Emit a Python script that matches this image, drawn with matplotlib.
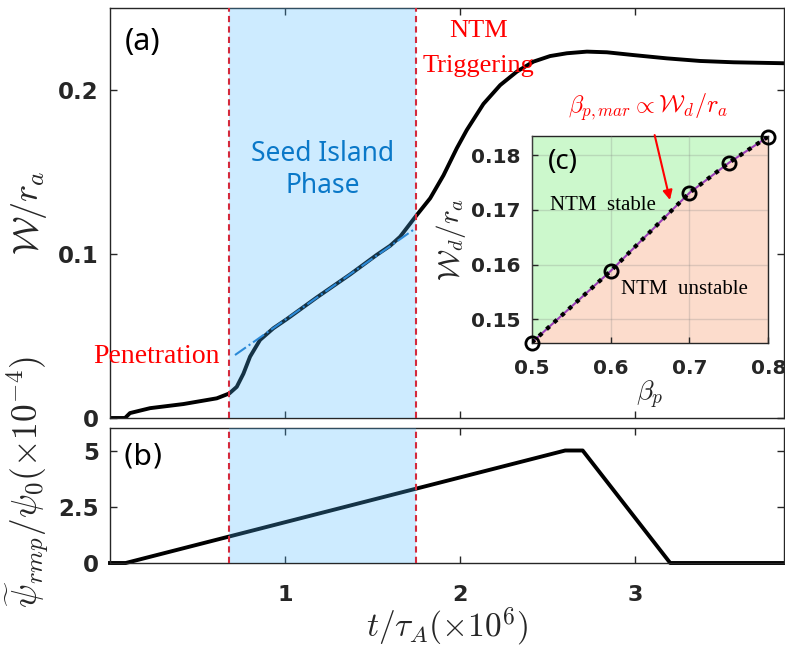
import matplotlib
matplotlib.use("Agg")
import matplotlib.pyplot as plt

plt.rcParams['mathtext.fontset'] = 'cm'
plt.rcParams['font.family'] = ['DejaVu Sans']

# ---- data ----
t_w = [0.0, 0.086, 0.114, 0.229, 0.419, 0.61, 0.682, 0.724, 0.762, 0.8, 0.857, 0.933,
       1.01, 1.181, 1.371, 1.524, 1.6, 1.657, 1.743, 1.829, 1.905, 1.981, 2.038, 2.133,
       2.229, 2.324, 2.419, 2.514, 2.61, 2.724, 2.838, 2.99, 3.18, 3.371, 3.562, 3.857]
w_ra = [0.0, 0.0, 0.003, 0.006, 0.0085, 0.012, 0.015, 0.019, 0.027, 0.0374, 0.0476, 0.0547,
        0.0603, 0.0735, 0.0875, 0.0995, 0.105, 0.1105, 0.1225, 0.134, 0.148, 0.1645, 0.1756,
        0.1915, 0.203, 0.2112, 0.2173, 0.2207, 0.2224, 0.2234, 0.223, 0.2213, 0.2193, 0.2177,
        0.2169, 0.2163]

seed_fit_t = [0.714, 1.75]
seed_fit_w = [0.0384, 0.116]

t_psi = [0.0, 0.09, 2.6, 2.7, 3.2, 3.86]
psi_rmp = [0.0, 0.0, 5.0, 5.0, 0.0, 0.0]

t_pen = 0.68
t_trig = 1.75

beta_p = [0.5, 0.6, 0.7, 0.75, 0.8]
wd_ra = [0.1457, 0.1588, 0.1731, 0.1786, 0.1834]

xticks = [1, 2, 3]
yticks_a = [0, 0.1, 0.2]
yticks_b = [0, 2.5, 5]
ytick_b_labels = ['0', '2.5', '5']
inset_xticks = [0.5, 0.6, 0.7, 0.8]
inset_yticks = [0.15, 0.16, 0.17, 0.18]

# ---- style ----
dark = '#262626'
red = '#d42a3c'
fill_blue = '#4db8ff'
txt_red = '#ff0000'
txt_blue = '#0a78c8'

fig = plt.figure(figsize=(7.85, 6.54), dpi=100)
W, H = 785, 654
def box(l, t, r, b):
    return [l / W, 1 - b / H, (r - l) / W, (b - t) / H]

axa = fig.add_axes(box(110, 8, 784, 418))
axb = fig.add_axes(box(110, 428, 784, 563))

for ax in (axa, axb):
    for s in ax.spines.values():
        s.set_color(dark)
        s.set_linewidth(1.0)
    ax.set_xlim(0, 3.85)
    ax.tick_params(direction='in', length=5, width=1, color=dark,
                   top=True, right=True, labelcolor=dark)
    ax.set_xticks(xticks)
    ax.axvspan(t_pen, t_trig, color=fill_blue, alpha=0.28, lw=0, zorder=3)
    ax.axvline(t_pen, color=red, lw=1.5, ls=(0, (3, 2)), zorder=4)
    ax.axvline(t_trig, color=red, lw=1.5, ls=(0, (3, 2)), zorder=4)

# panel (a)
axa.plot(t_w, w_ra, color='black', lw=2.8, zorder=2, solid_capstyle='round')
axa.plot(seed_fit_t, seed_fit_w, color='#1f78c8', lw=1.5, ls='-.', zorder=2.5)
axa.set_ylim(0, 0.25)
axa.set_yticks(yticks_a)
axa.set_yticklabels(['0', '0.1', '0.2'], fontsize=16.5, fontweight='bold')
axa.tick_params(axis='y', pad=8)
axa.set_xticklabels([])
axa.set_ylabel(r'$\mathcal{W}/r_a$', fontsize=26, color=dark)
axa.yaxis.set_label_coords(-0.09, 0.5)

axa.text(0.086, 0.229, '(a)', fontsize=22, family='Noto Sans', ha='left', va='center', color='black')
axa.text(1.217, 0.161, 'Seed Island', fontsize=19, family='Noto Sans', color=txt_blue,
         ha='center', va='center', zorder=6)
axa.text(1.217, 0.1415, 'Phase', fontsize=19, family='Noto Sans', color=txt_blue,
         ha='center', va='center', zorder=6)
axa.text(0.629, 0.0378, 'Penetration', fontsize=20, family='Liberation Serif', color=txt_red,
         ha='right', va='center', clip_on=False, zorder=6)
axa.text(2.103, 0.236, 'NTM', fontsize=19, family='Liberation Serif', color=txt_red,
         ha='center', va='center', zorder=6)
axa.text(2.103, 0.2146, 'Triggering', fontsize=19, family='Liberation Serif', color=txt_red,
         ha='center', va='center', zorder=6)

# panel (b)
axb.plot(t_psi, psi_rmp, color='black', lw=2.8, zorder=2, clip_on=False)
axb.set_ylim(0, 6)
axb.set_yticks(yticks_b)
axb.set_yticklabels(ytick_b_labels, fontsize=16.5, fontweight='bold')
axb.tick_params(axis='y', pad=8)
axb.set_xticklabels([str(v) for v in xticks], fontsize=16, fontweight='bold')
axb.tick_params(axis='x', pad=16)
axb.set_xlabel(r'$t/\tau_A(\times10^6)$', fontsize=24, color=dark, labelpad=0)
axb.set_ylabel(r'$\widetilde{\psi}_{rmp}/\psi_0(\times10^{-4})$', fontsize=25.5, color=dark)
axb.yaxis.set_label_coords(-0.088, 0.6)
axb.text(0.069, 4.75, '(b)', fontsize=21, ha='left', va='center', color='black')

# inset (c)
axc = fig.add_axes(box(531.7, 136, 768.3, 342.7))
axc.set_xlim(0.5, 0.8)
axc.set_ylim(0.1457, 0.1835)
axc.fill_between(beta_p, wd_ra, 0.1835, color='#ccf8cc', lw=0, zorder=0)
axc.fill_between(beta_p, 0.1457, wd_ra, color='#fcdccc', lw=0, zorder=0)
axc.grid(True, color='gray', alpha=0.25, lw=1)
axc.set_axisbelow(False)
axc.plot(beta_p, wd_ra, color='#9b3fb5', lw=1.5, zorder=3)
axc.plot(beta_p, wd_ra, color='black', lw=3, ls=(0, (1, 1.4)), zorder=4)
axc.plot(beta_p, wd_ra, 'o', ms=9.5, mfc='none', mec='black', mew=2, zorder=5, clip_on=False)
for s in axc.spines.values():
    s.set_color(dark)
    s.set_linewidth(1.0)
axc.tick_params(direction='in', length=4, width=1, color=dark, labelcolor=dark)
axc.set_xticks(inset_xticks)
axc.set_xticklabels(['0.5', '0.6', '0.7', '0.8'], fontsize=14.5, fontweight='bold')
axc.set_yticks(inset_yticks)
axc.set_yticklabels(['0.15', '0.16', '0.17', '0.18'], fontsize=14.5, fontweight='bold')
axc.tick_params(axis='x', pad=12)
axc.tick_params(axis='y', pad=8)
axc.set_xlabel(r'$\beta_p$', fontsize=20, color=dark, labelpad=0)
axc.set_ylabel(r'$\mathcal{W}_d/r_a$', fontsize=21, color=dark, labelpad=2)
axc.text(0.5207, 0.1788, '(c)', fontsize=20, family='Noto Sans', ha='left', va='center', zorder=6)
axc.text(0.5232, 0.1707, 'NTM  stable', fontsize=15, family='Liberation Serif',
         ha='left', va='center', zorder=6)
axc.text(0.6128, 0.1555, 'NTM  unstable', fontsize=15, family='Liberation Serif',
         ha='left', va='center', zorder=6)
axc.annotate(r'$\beta_{p,mar}\propto\mathcal{W}_d/r_a$', xy=(0.6753, 0.1718),
             xytext=(0.6475, 0.1888), textcoords='data', ha='center', va='center',
             fontsize=17.5, color=txt_red, annotation_clip=False,
             arrowprops=dict(arrowstyle='-|>', color=txt_red, lw=1.5,
                             mutation_scale=14, shrinkA=7, shrinkB=0))

fig.savefig('out.png', dpi=100)
